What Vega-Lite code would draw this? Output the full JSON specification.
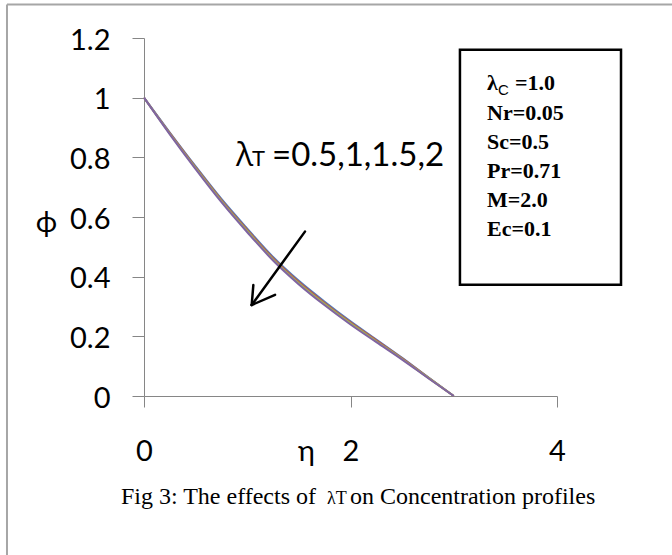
{
  "$schema": "https://vega.github.io/schema/vega-lite/v6.json",
  "width": 413,
  "height": 358,
  "autosize": {"type": "none"},
  "padding": {"left": 144, "top": 38, "right": 115, "bottom": 159},
  "background": "white",
  "config": {"view": {"stroke": null}},
  "data": {
    "values": [
      {"lambdaT": "0.5", "eta": 0, "phi": 1.0},
      {"lambdaT": "0.5", "eta": 0.25, "phi": 0.883},
      {"lambdaT": "0.5", "eta": 0.5, "phi": 0.7695},
      {"lambdaT": "0.5", "eta": 0.75, "phi": 0.6603},
      {"lambdaT": "0.5", "eta": 1.0, "phi": 0.561},
      {"lambdaT": "0.5", "eta": 1.25, "phi": 0.466},
      {"lambdaT": "0.5", "eta": 1.5, "phi": 0.386},
      {"lambdaT": "0.5", "eta": 1.75, "phi": 0.316},
      {"lambdaT": "0.5", "eta": 2.0, "phi": 0.2503},
      {"lambdaT": "0.5", "eta": 2.25, "phi": 0.1895},
      {"lambdaT": "0.5", "eta": 2.5, "phi": 0.128},
      {"lambdaT": "0.5", "eta": 2.75, "phi": 0.0635},
      {"lambdaT": "0.5", "eta": 3.0, "phi": 0},
      {"lambdaT": "1", "eta": 0, "phi": 1.0},
      {"lambdaT": "1", "eta": 0.25, "phi": 0.881},
      {"lambdaT": "1", "eta": 0.5, "phi": 0.7665},
      {"lambdaT": "1", "eta": 0.75, "phi": 0.6568},
      {"lambdaT": "1", "eta": 1.0, "phi": 0.557},
      {"lambdaT": "1", "eta": 1.25, "phi": 0.462},
      {"lambdaT": "1", "eta": 1.5, "phi": 0.382},
      {"lambdaT": "1", "eta": 1.75, "phi": 0.312},
      {"lambdaT": "1", "eta": 2.0, "phi": 0.2468},
      {"lambdaT": "1", "eta": 2.25, "phi": 0.1865},
      {"lambdaT": "1", "eta": 2.5, "phi": 0.126},
      {"lambdaT": "1", "eta": 2.75, "phi": 0.0625},
      {"lambdaT": "1", "eta": 3.0, "phi": 0},
      {"lambdaT": "1.5", "eta": 0, "phi": 1.0},
      {"lambdaT": "1.5", "eta": 0.25, "phi": 0.879},
      {"lambdaT": "1.5", "eta": 0.5, "phi": 0.7635},
      {"lambdaT": "1.5", "eta": 0.75, "phi": 0.6533},
      {"lambdaT": "1.5", "eta": 1.0, "phi": 0.553},
      {"lambdaT": "1.5", "eta": 1.25, "phi": 0.458},
      {"lambdaT": "1.5", "eta": 1.5, "phi": 0.378},
      {"lambdaT": "1.5", "eta": 1.75, "phi": 0.308},
      {"lambdaT": "1.5", "eta": 2.0, "phi": 0.2433},
      {"lambdaT": "1.5", "eta": 2.25, "phi": 0.1835},
      {"lambdaT": "1.5", "eta": 2.5, "phi": 0.124},
      {"lambdaT": "1.5", "eta": 2.75, "phi": 0.0615},
      {"lambdaT": "1.5", "eta": 3.0, "phi": 0},
      {"lambdaT": "2", "eta": 0, "phi": 1.0},
      {"lambdaT": "2", "eta": 0.25, "phi": 0.877},
      {"lambdaT": "2", "eta": 0.5, "phi": 0.7605},
      {"lambdaT": "2", "eta": 0.75, "phi": 0.6498},
      {"lambdaT": "2", "eta": 1.0, "phi": 0.549},
      {"lambdaT": "2", "eta": 1.25, "phi": 0.454},
      {"lambdaT": "2", "eta": 1.5, "phi": 0.374},
      {"lambdaT": "2", "eta": 1.75, "phi": 0.304},
      {"lambdaT": "2", "eta": 2.0, "phi": 0.2398},
      {"lambdaT": "2", "eta": 2.25, "phi": 0.1805},
      {"lambdaT": "2", "eta": 2.5, "phi": 0.122},
      {"lambdaT": "2", "eta": 2.75, "phi": 0.0605},
      {"lambdaT": "2", "eta": 3.0, "phi": 0}
    ]
  },
  "layer": [
    {
      "mark": {"type": "line", "strokeWidth": 2, "interpolate": "monotone"},
      "encoding": {
        "x": {
          "field": "eta", "type": "quantitative",
          "scale": {"domain": [0, 4], "nice": false, "zero": false},
          "axis": {
            "values": [0, 2, 4], "grid": false, "format": "~g",
            "domainColor": "#868686", "domainWidth": 1,
            "tickColor": "#868686", "tickWidth": 1, "tickSize": 11,
            "labelFont": "Lato", "labelFontSize": 29, "labelColor": "black",
            "labelPadding": 53, "labelBaseline": "alphabetic",
            "labelFlush": false, "labelOverlap": false, "labelBound": false,
            "title": "η", "titleX": 162, "titleY": 64,
            "titleAlign": "center", "titleBaseline": "alphabetic",
            "titleFont": "Lato", "titleFontSize": 29, "titleFontWeight": "normal", "titleColor": "black"
          }
        },
        "y": {
          "field": "phi", "type": "quantitative",
          "scale": {"domain": [0, 1.2], "nice": false, "zero": false},
          "axis": {
            "values": [0, 0.2, 0.4, 0.6, 0.8, 1, 1.2], "grid": false, "format": "~g",
            "domainColor": "#868686", "domainWidth": 1,
            "tickColor": "#868686", "tickWidth": 1, "tickSize": 12,
            "labelFont": "Lato", "labelFontSize": 29, "labelColor": "black",
            "labelPadding": 22, "labelOffset": 2,
            "labelFlush": false, "labelOverlap": false, "labelBound": false,
            "title": "ϕ", "titleAngle": 0, "titleX": -98, "titleY": 184,
            "titleAlign": "center", "titleBaseline": "middle",
            "titleFont": "Lato", "titleFontSize": 29, "titleFontWeight": "normal", "titleColor": "black"
          }
        },
        "color": {
          "field": "lambdaT", "type": "nominal",
          "scale": {"domain": ["0.5", "1", "1.5", "2"], "range": ["#4F81BD", "#C0504D", "#9BBB59", "#8064A2"]},
          "legend": null
        }
      }
    },
    {
      "data": {"values": [{}]},
      "mark": {"type": "rule", "color": "#a6a6a6", "strokeWidth": 2},
      "encoding": {"x": {"datum": -1.327}, "x2": {"datum": 5.2}, "y": {"datum": 1.312}}
    },
    {
      "data": {"values": [{}]},
      "mark": {"type": "rule", "color": "#a6a6a6", "strokeWidth": 2},
      "encoding": {"x": {"datum": -1.327}, "y": {"datum": 1.312}, "y2": {"datum": -0.6}}
    },
    {
      "data": {"values": [{}]},
      "mark": {"type": "rect", "fill": "white", "stroke": "black", "strokeWidth": 2.5},
      "encoding": {"x": {"datum": 3.06}, "x2": {"datum": 4.62}, "y": {"datum": 1.161}, "y2": {"datum": 0.3725}}
    },
    {
      "data": {"values": [{}]},
      "mark": {"type": "rule", "color": "black", "strokeWidth": 2.5, "strokeCap": "round"},
      "encoding": {"x": {"datum": 1.559}, "y": {"datum": 0.551}, "x2": {"datum": 1.043}, "y2": {"datum": 0.305}}
    },
    {
      "data": {"values": [{}]},
      "mark": {"type": "rule", "color": "black", "strokeWidth": 2.5, "strokeCap": "round"},
      "encoding": {"x": {"datum": 1.043}, "y": {"datum": 0.305}, "x2": {"datum": 1.059}, "y2": {"datum": 0.372}}
    },
    {
      "data": {"values": [{}]},
      "mark": {"type": "rule", "color": "black", "strokeWidth": 2.5, "strokeCap": "round"},
      "encoding": {"x": {"datum": 1.043}, "y": {"datum": 0.305}, "x2": {"datum": 1.269}, "y2": {"datum": 0.339}}
    },
    {
      "data": {"values": [{}]},
      "mark": {"type": "text", "font": "Open Sans", "fontSize": 32, "align": "left", "baseline": "alphabetic", "color": "black"},
      "encoding": {"x": {"datum": 0.891}, "y": {"datum": 0.7695}, "text": {"value": "λ"}}
    },
    {
      "data": {"values": [{}]},
      "mark": {"type": "text", "font": "Lato", "fontSize": 22, "align": "left", "baseline": "alphabetic", "color": "black"},
      "encoding": {"x": {"datum": 1.046}, "y": {"datum": 0.7695}, "text": {"value": "T"}}
    },
    {
      "data": {"values": [{}]},
      "mark": {"type": "text", "font": "Lato", "fontSize": 33, "align": "left", "baseline": "alphabetic", "color": "black"},
      "encoding": {"x": {"datum": 1.24}, "y": {"datum": 0.7695}, "text": {"value": "=0.5,1,1.5,2"}}
    },
    {
      "data": {"values": [{}]},
      "mark": {"type": "text", "font": "Liberation Serif", "fontWeight": "bold", "fontSize": 22, "align": "left", "baseline": "alphabetic", "color": "black"},
      "encoding": {"x": {"datum": 3.322}, "y": {"datum": 1.0242}, "text": {"value": "λ"}}
    },
    {
      "data": {"values": [{}]},
      "mark": {"type": "text", "font": "Liberation Sans", "fontSize": 15, "align": "left", "baseline": "alphabetic", "color": "black"},
      "encoding": {"x": {"datum": 3.429}, "y": {"datum": 1.01}, "text": {"value": "C"}}
    },
    {
      "data": {"values": [{}]},
      "mark": {"type": "text", "font": "Liberation Serif", "fontWeight": "bold", "fontSize": 22, "align": "left", "baseline": "alphabetic", "color": "black"},
      "encoding": {"x": {"datum": 3.593}, "y": {"datum": 1.0242}, "text": {"value": "=1.0"}}
    },
    {
      "data": {"values": [{}]},
      "mark": {"type": "text", "font": "Liberation Serif", "fontWeight": "bold", "fontSize": 22, "lineHeight": 29, "align": "left", "baseline": "alphabetic", "color": "black"},
      "encoding": {"x": {"datum": 3.322}, "y": {"datum": 0.9268}, "text": {"value": ["Nr=0.05", "Sc=0.5", "Pr=0.71", "M=2.0", "Ec=0.1"]}}
    },
    {
      "data": {"values": [{}]},
      "mark": {"type": "text", "font": "Liberation Serif", "fontSize": 24, "align": "right", "baseline": "alphabetic", "color": "black"},
      "encoding": {"x": {"datum": 1.666}, "y": {"datum": -0.362}, "text": {"value": "Fig 3: The effects of"}}
    },
    {
      "data": {"values": [{}]},
      "mark": {"type": "text", "font": "Liberation Serif", "fontSize": 18, "align": "left", "baseline": "alphabetic", "color": "black"},
      "encoding": {"x": {"datum": 1.772}, "y": {"datum": -0.362}, "text": {"value": "λT"}}
    },
    {
      "data": {"values": [{}]},
      "mark": {"type": "text", "font": "Liberation Serif", "fontSize": 24, "align": "left", "baseline": "alphabetic", "color": "black"},
      "encoding": {"x": {"datum": 1.995}, "y": {"datum": -0.362}, "text": {"value": "on Concentration profiles"}}
    }
  ]
}
